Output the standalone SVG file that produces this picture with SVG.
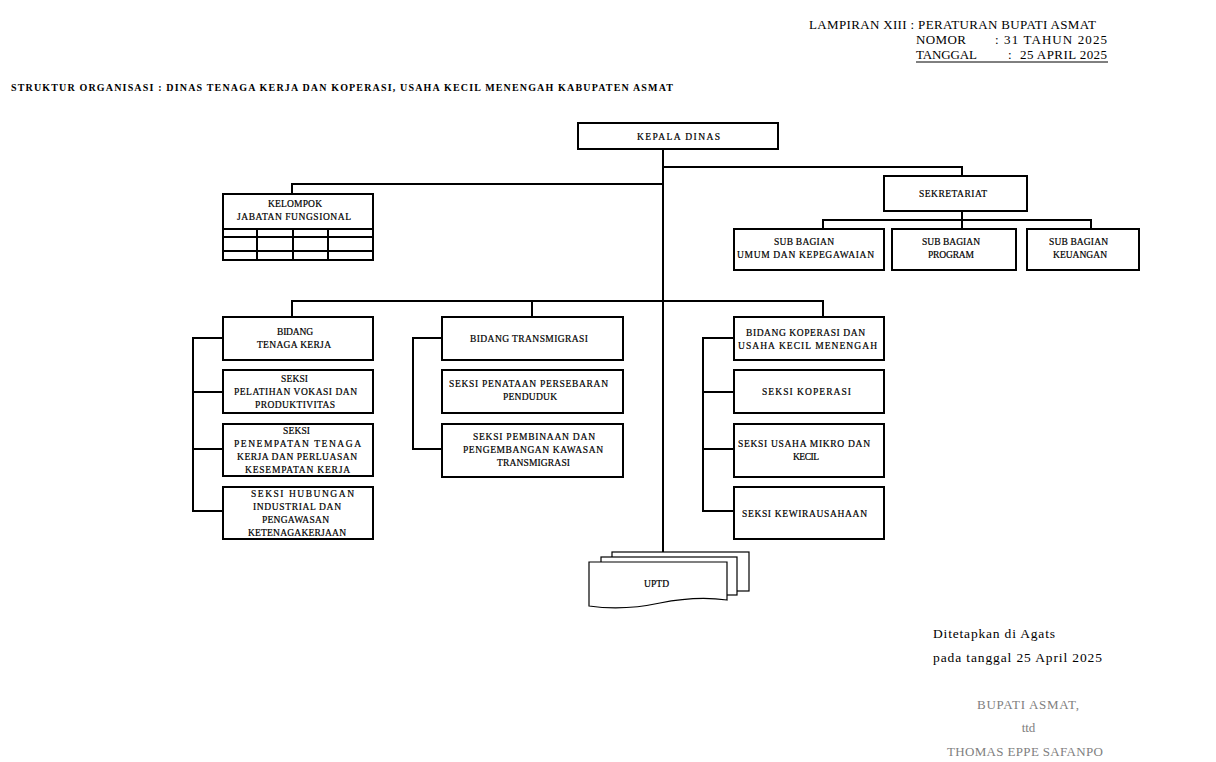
<svg xmlns="http://www.w3.org/2000/svg" width="1216" height="762" viewBox="0 0 1216 762">
<style>
.box{fill:#fff;stroke:#000;stroke-width:2}
.ln{fill:none;stroke:#000;stroke-width:2}
.doc{fill:#fff;stroke:#000;stroke-width:1.2}
text{font-family:"Liberation Serif","DejaVu Serif",serif;fill:#000}
.t{font-size:9.5px;stroke:#000;stroke-width:0.2}
.h{font-size:13px}
.ttl{font-size:10px;font-weight:bold}
.s{font-size:13.5px}
.g{font-size:13px;fill:#808080}
</style>
<rect width="1216" height="762" fill="#fff"/>
<g id="header">
<text class="h" x="809" y="29" textLength="287" lengthAdjust="spacing">LAMPIRAN XIII : PERATURAN BUPATI ASMAT</text>
<text class="h" x="916" y="44" textLength="50" lengthAdjust="spacing">NOMOR</text>
<text class="h" x="995" y="44" textLength="112" lengthAdjust="spacing">: 31 TAHUN 2025</text>
<text class="h" x="916" y="59" textLength="61" lengthAdjust="spacing">TANGGAL</text>
<text class="h" x="1008" y="59">:</text>
<text class="h" x="1020" y="59" textLength="87" lengthAdjust="spacing">25 APRIL 2025</text>
<line x1="916" y1="62" x2="1108" y2="62" stroke="#000" stroke-width="1"/>
</g>
<text id="title" class="ttl" x="11" y="91" textLength="662" lengthAdjust="spacing">STRUKTUR ORGANISASI : DINAS TENAGA KERJA DAN KOPERASI, USAHA KECIL MENENGAH KABUPATEN ASMAT</text>
<g id="connectors">
<path class="ln" d="M663,149 V552"/>
<path class="ln" d="M663,167 H962 V176"/>
<path class="ln" d="M962,211 V229 M823,229 V220 H1091 V229"/>
<path class="ln" d="M663,184 H292 V194"/>
<path class="ln" d="M292,317 V301 H823 V317 M532,301 V317"/>
<path class="ln" d="M223,338 H193 V511 H223 M193,392 H223 M193,449 H223"/>
<path class="ln" d="M442,338 H413 V449 H442"/>
<path class="ln" d="M734,338 H703 V511 H734 M703,392 H734 M703,449 H734"/>
</g>
<g id="kepala">
<rect class="box" x="578" y="123" width="200" height="26"/>
<text class="t" x="637" y="140" textLength="83" lengthAdjust="spacing">KEPALA DINAS</text>
</g>
<g id="sekretariat">
<rect class="box" x="884" y="176" width="143" height="35"/>
<text class="t" x="919" y="197" textLength="68" lengthAdjust="spacing">SEKRETARIAT</text>
</g>
<g id="subumum">
<rect class="box" x="734" y="229" width="150" height="41"/>
<text class="t" x="774" y="245" textLength="60" lengthAdjust="spacing">SUB BAGIAN</text>
<text class="t" x="737" y="258" textLength="137" lengthAdjust="spacing">UMUM DAN KEPEGAWAIAN</text>
</g>
<g id="subprogram">
<rect class="box" x="892" y="229" width="124" height="41"/>
<text class="t" x="922" y="245" textLength="58" lengthAdjust="spacing">SUB BAGIAN</text>
<text class="t" x="928" y="258" textLength="46" lengthAdjust="spacing">PROGRAM</text>
</g>
<g id="subkeuangan">
<rect class="box" x="1027" y="229" width="112" height="41"/>
<text class="t" x="1049" y="245" textLength="59" lengthAdjust="spacing">SUB BAGIAN</text>
<text class="t" x="1053" y="258" textLength="54" lengthAdjust="spacing">KEUANGAN</text>
</g>
<g id="kelompok">
<rect class="box" x="223" y="194" width="150" height="66"/>
<path class="ln" d="M223,229 H373 M223,237 H373 M223,251 H373 M257,229 V260 M293,229 V260 M328,229 V260" stroke-width="1.6"/>
<text class="t" x="268" y="207" textLength="54" lengthAdjust="spacing">KELOMPOK</text>
<text class="t" x="237" y="220" textLength="114" lengthAdjust="spacing">JABATAN FUNGSIONAL</text>
</g>
<g id="bidangtk">
<rect class="box" x="223" y="317" width="150" height="43"/>
<text class="t" x="277" y="335" textLength="36" lengthAdjust="spacing">BIDANG</text>
<text class="t" x="257" y="348" textLength="74" lengthAdjust="spacing">TENAGA KERJA</text>
</g>
<g id="seksipelatihan">
<rect class="box" x="223" y="370" width="150" height="43"/>
<text class="t" x="281" y="382" textLength="27" lengthAdjust="spacing">SEKSI</text>
<text class="t" x="234" y="395" textLength="123" lengthAdjust="spacing">PELATIHAN VOKASI DAN</text>
<text class="t" x="255" y="408" textLength="80" lengthAdjust="spacing">PRODUKTIVITAS</text>
</g>
<g id="seksipenempatan">
<rect class="box" x="223" y="424" width="150" height="52"/>
<text class="t" x="283" y="434" textLength="27" lengthAdjust="spacing">SEKSI</text>
<text class="t" x="234" y="447" textLength="127" lengthAdjust="spacing">PENEMPATAN TENAGA</text>
<text class="t" x="237" y="460" textLength="120" lengthAdjust="spacing">KERJA DAN PERLUASAN</text>
<text class="t" x="245" y="473" textLength="105" lengthAdjust="spacing">KESEMPATAN KERJA</text>
</g>
<g id="seksihubungan">
<rect class="box" x="223" y="487" width="150" height="52"/>
<text class="t" x="251" y="497" textLength="103" lengthAdjust="spacing">SEKSI HUBUNGAN</text>
<text class="t" x="253" y="510" textLength="88" lengthAdjust="spacing">INDUSTRIAL DAN</text>
<text class="t" x="262" y="523" textLength="67" lengthAdjust="spacing">PENGAWASAN</text>
<text class="t" x="248" y="536" textLength="98" lengthAdjust="spacing">KETENAGAKERJAAN</text>
</g>
<g id="bidangtrans">
<rect class="box" x="442" y="317" width="181" height="43"/>
<text class="t" x="470" y="342" textLength="118" lengthAdjust="spacing">BIDANG TRANSMIGRASI</text>
</g>
<g id="seksipenataan">
<rect class="box" x="442" y="370" width="181" height="43"/>
<text class="t" x="449" y="387" textLength="159" lengthAdjust="spacing">SEKSI PENATAAN PERSEBARAN</text>
<text class="t" x="503" y="400" textLength="54" lengthAdjust="spacing">PENDUDUK</text>
</g>
<g id="seksipembinaan">
<rect class="box" x="442" y="424" width="181" height="53"/>
<text class="t" x="473" y="440" textLength="122" lengthAdjust="spacing">SEKSI PEMBINAAN DAN</text>
<text class="t" x="463" y="453" textLength="140" lengthAdjust="spacing">PENGEMBANGAN KAWASAN</text>
<text class="t" x="497" y="466" textLength="73" lengthAdjust="spacing">TRANSMIGRASI</text>
</g>
<g id="bidangkop">
<rect class="box" x="734" y="317" width="150" height="43"/>
<text class="t" x="746" y="336" textLength="119" lengthAdjust="spacing">BIDANG KOPERASI DAN</text>
<text class="t" x="738" y="349" textLength="139" lengthAdjust="spacing">USAHA KECIL MENENGAH</text>
</g>
<g id="seksikop">
<rect class="box" x="734" y="370" width="150" height="43"/>
<text class="t" x="762" y="395" textLength="89" lengthAdjust="spacing">SEKSI KOPERASI</text>
</g>
<g id="seksiusaha">
<rect class="box" x="734" y="424" width="150" height="53"/>
<text class="t" x="738" y="447" textLength="132" lengthAdjust="spacing">SEKSI USAHA MIKRO DAN</text>
<text class="t" x="793" y="460" textLength="26" lengthAdjust="spacing">KECIL</text>
</g>
<g id="seksikewira">
<rect class="box" x="734" y="487" width="150" height="52"/>
<text class="t" x="742" y="517" textLength="125" lengthAdjust="spacing">SEKSI KEWIRAUSAHAAN</text>
</g>
<g id="uptd">
<rect class="doc" x="612" y="552" width="137" height="39"/>
<rect class="doc" x="601" y="557" width="136" height="38"/>
<path class="doc" d="M589,562 H727 V600 C705,597 685,598 660,603 C632,609 610,609 589,606 Z"/>
<text class="t" x="644" y="587" textLength="25" lengthAdjust="spacing">UPTD</text>
</g>
<g id="signature">
<text class="s" x="933" y="638" textLength="122" lengthAdjust="spacing">Ditetapkan di Agats</text>
<text class="s" x="933" y="662" textLength="169" lengthAdjust="spacing">pada tanggal 25 April 2025</text>
<text class="g" x="977" y="709" textLength="102" lengthAdjust="spacing">BUPATI ASMAT,</text>
<text class="g" x="1028.5" y="732" text-anchor="middle">ttd</text>
<text class="g" x="947" y="756" textLength="156" lengthAdjust="spacing">THOMAS EPPE SAFANPO</text>
</g>
</svg>
